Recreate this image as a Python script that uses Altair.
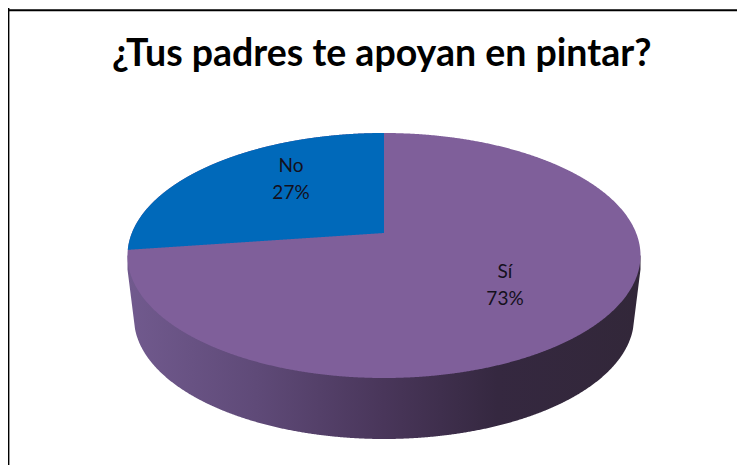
import math
import altair as alt
import numpy as np
import pandas as pd

TITLE = "¿Tus padres te apoyan en pintar?"
categories = ["No", "Sí"]
shares = [27, 73]
label_x = [291, 505]
label_y = [179 - 13, 284 - 12.5]
slice_colors = ["#0069BA", "#7F5F9A"]

# Picture-space geometry of the tilted disc (page pixels).
CX, CY, RX, RY = 384.0, 255.5, 256.5, 122.5
LOW_RX, LOW_CY, LOW_RY = 250.0, 318.0, 121.0
VX, VY = 384.0, 233.0
W, H = 729, 457

x_scale = alt.Scale(domain=[8, 8 + W], range=[0, W], nice=False, zero=False)
y_scale = alt.Scale(domain=[8, 8 + H], range=[0, H], nice=False, zero=False)
X = lambda f="x": alt.X(f"{f}:Q", scale=x_scale, axis=None)
Y = lambda f="y": alt.Y(f"{f}:Q", scale=y_scale, axis=None)

t = np.linspace(0, math.pi, 721)

# top face
top = pd.DataFrame({
    "x": CX - RX * np.cos(t),
    "y": CY - RY * np.sin(t),
    "y2": CY + RY * np.sin(t),
})

# side wall: from the widest line of the top face down to the lower rim
xs = CX - RX * np.cos(t)
lower = []
for x in xs:
    d = abs(x - CX)
    if d <= LOW_RX - 1:
        lower.append(LOW_CY + LOW_RY * math.sqrt(1 - (d / LOW_RX) ** 2))
    else:
        # tangent edge running up to the upper rim
        edge_y = LOW_CY + LOW_RY * math.sqrt(1 - ((LOW_RX - 1) / LOW_RX) ** 2)
        lower.append(edge_y + (d - (LOW_RX - 1)) / (RX - LOW_RX + 1) * (CY + 14 - edge_y))
side = pd.DataFrame({"x": xs, "y": CY, "y2": lower})

# "No" slice, its angle comes from the share
theta = 2 * math.pi * shares[0] / sum(shares)
slope = -math.cos(theta) / math.sin(theta) * 0.52
ta = np.linspace(0, math.pi / 2, 1801)
bx = CX - RX * np.cos(ta)
by = CY - RY * np.sin(ta)
line_y = VY + slope * (VX - bx)
keep = by <= line_y
blue = pd.DataFrame({"x": bx[keep], "y": by[keep], "y2": line_y[keep]})

side_fill = alt.Gradient(
    gradient="linear", x1=0, x2=1, y1=0, y2=0,
    stops=[
        alt.GradientStop(offset=0.0, color="#715A8E"),
        alt.GradientStop(offset=0.25, color="#5F4A78"),
        alt.GradientStop(offset=0.5, color="#49365A"),
        alt.GradientStop(offset=0.72, color="#352840"),
        alt.GradientStop(offset=1.0, color="#322739"),
    ],
)

side_layer = alt.Chart(side).mark_area(color=side_fill).encode(x=X(), y=Y(), y2="y2:Q")
top_layer = alt.Chart(top).mark_area(color=slice_colors[1]).encode(x=X(), y=Y(), y2="y2:Q")
blue_layer = alt.Chart(blue).mark_area(color=slice_colors[0]).encode(x=X(), y=Y(), y2="y2:Q")

labels = pd.DataFrame({
    "x": label_x, "y": label_y,
    "text": [f"{c}\n{s}%" for c, s in zip(categories, shares)],
})
label_layer = alt.Chart(labels).mark_text(
    font="Lato", fontSize=19, lineBreak="\n", lineHeight=27,
    align="center", baseline="middle", color="#14101c",
).encode(x=X(), y=Y(), text="text:N")

frame_h = alt.Chart(pd.DataFrame({"y": [10.2]})).mark_rule(color="#000000", strokeWidth=2).encode(y=Y())
frame_v = alt.Chart(pd.DataFrame({"x": [8.4]})).mark_rule(color="#000000", strokeWidth=2).encode(x=X())

chart = alt.layer(
    frame_h, frame_v, side_layer, top_layer, blue_layer, label_layer
).properties(
    width=W, height=H, padding=0,
    autosize=alt.AutoSizeParams(type="none"),
    background="white",
    title=alt.TitleParams(
        TITLE, font="Lato", fontSize=37.5, fontWeight="bold", color="#000000",
        anchor="start", offset=-66, dx=105,
    ),
).configure_view(stroke=None)

chart.save("out.html", embed_options={"renderer": "svg", "actions": False})
